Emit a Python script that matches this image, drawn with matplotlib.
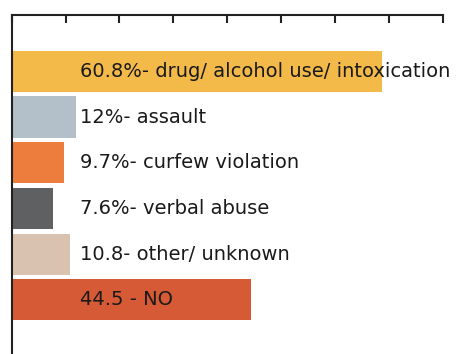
import numpy as np
from matplotlib import pyplot as plt

# bar lengths as drawn (the first bar is drawn longer than its label says)
categories = ['drug/ alcohol use/ intoxication', 'assault', 'curfew violation',
              'verbal abuse', 'other/ unknown', 'NO']
values = [68.8, 12, 9.7, 7.6, 10.8, 44.5]
labels = ['60.8%- drug/ alcohol use/ intoxication', '12%- assault',
          '9.7%- curfew violation', '7.6%- verbal abuse',
          '10.8- other/ unknown', '44.5 - NO']
colors = ['#F3BA4A', '#B3C0C9', '#ED7D3C', '#5F6062', '#D9C3B0', '#D65A35']
ticks = np.arange(0, 81, 10)

plt.rcParams['font.family'] = ['DejaVu Sans']

fig = plt.figure(figsize=(4.67, 3.54), dpi=100)
ax = fig.add_axes([0.025, 0.0, 0.923, 0.959])

y = np.arange(len(values))
ax.barh(y, values, height=0.9, color=colors)
for i, lab in enumerate(labels):
    ax.text(12.67, i, lab, va='center', ha='left', fontsize=14, color='#1a1a1a')

ax.set_xlim(0, 80)
ax.set_ylim(6.186, -1.243)
ax.xaxis.tick_top()
ax.set_xticks(ticks)
ax.set_xticklabels([])
ax.set_yticks([])
ax.tick_params(axis='x', direction='in', length=6, width=1.5, color='#222222')
for s in ['right', 'bottom']:
    ax.spines[s].set_visible(False)
for s in ['top', 'left']:
    ax.spines[s].set_linewidth(1.5)
    ax.spines[s].set_color('#222222')

fig.savefig('out.png', dpi=100)
